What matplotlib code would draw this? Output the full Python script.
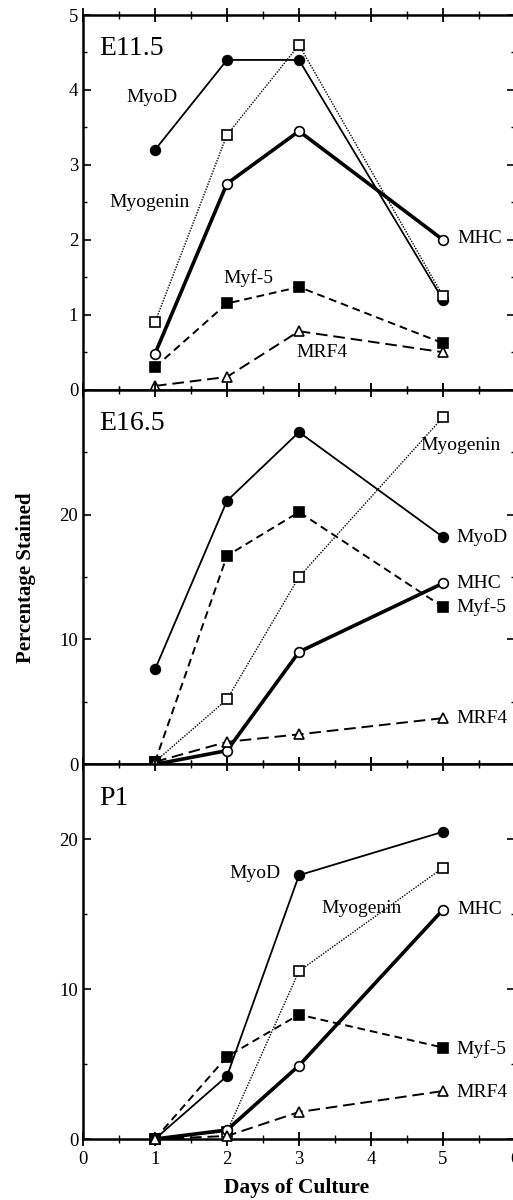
import matplotlib
matplotlib.use('Agg')
import matplotlib.pyplot as plt
from matplotlib.ticker import MultipleLocator

plt.rcParams['font.family'] = ['Liberation Serif', 'DejaVu Serif']

days = [1, 2, 3, 5]

# E11.5
e11_myod = [3.2, 4.4, 4.4, 1.2]
e11_myogenin = [0.9, 3.4, 4.6, 1.25]
e11_mhc = [0.48, 2.75, 3.45, 2.0]
e11_myf5 = [0.3, 1.15, 1.37, 0.62]
e11_mrf4 = [0.05, 0.17, 0.78, 0.5]

# E16.5
e16_myod = [7.6, 21.1, 26.6, 18.2]
e16_myogenin = [0.2, 5.2, 15.0, 27.8]
e16_mhc = [0.0, 1.1, 9.0, 14.5]
e16_myf5 = [0.2, 16.7, 20.2, 12.6]
e16_mrf4 = [0.2, 1.8, 2.4, 3.7]

# P1
p1_myod = [0.0, 4.2, 17.6, 20.5]
p1_myogenin = [0.0, 0.5, 11.2, 18.1]
p1_mhc = [0.0, 0.6, 4.9, 15.3]
p1_myf5 = [0.0, 5.5, 8.3, 6.1]
p1_mrf4 = [0.0, 0.2, 1.8, 3.2]

panels = [
    ('E11.5', 5, 0.5, [e11_myod, e11_myogenin, e11_mhc, e11_myf5, e11_mrf4]),
    ('E16.5', 30, 5, [e16_myod, e16_myogenin, e16_mhc, e16_myf5, e16_mrf4]),
    ('P1', 25, 5, [p1_myod, p1_myogenin, p1_mhc, p1_myf5, p1_mrf4]),
]

# marker, fill, linestyle, linewidth
styles = [
    ('o', 'black', '-', 1.3),
    ('s', 'white', (0, (1, 1)), 1.0),
    ('o', 'white', '-', 2.6),
    ('s', 'black', (0, (4, 2.5)), 1.4),
    ('^', 'white', (0, (6, 3)), 1.4),
]

# labels: (text, x, y, ha)
labels = [
    [('MyoD', 0.96, 3.9, 'center'), ('Myogenin', 0.93, 2.5, 'center'),
     ('Myf-5', 2.3, 1.49, 'center'), ('MHC', 5.2, 2.02, 'left'),
     ('MRF4', 3.32, 0.5, 'center')],
    [('Myogenin', 4.68, 25.5, 'left'), ('MyoD', 5.18, 18.2, 'left'),
     ('MHC', 5.18, 14.5, 'left'), ('Myf-5', 5.18, 12.6, 'left'),
     ('MRF4', 5.18, 3.7, 'left')],
    [('MyoD', 2.75, 17.7, 'right'), ('Myogenin', 3.87, 15.4, 'center'),
     ('MHC', 5.2, 15.3, 'left'), ('Myf-5', 5.18, 6.0, 'left'),
     ('MRF4', 5.18, 3.1, 'left')],
]

fig = plt.figure(figsize=(5.13, 12.0), dpi=100)
left, right, bottom, top = 83 / 513, 515 / 513, 1 - 1139 / 1200, 1 - 15 / 1200
h = (top - bottom) / 3

axes = []
for i, (name, ymax, minor, series) in enumerate(panels):
    ax = fig.add_axes([left, top - (i + 1) * h, right - left, h])
    axes.append(ax)
    for vals, (m, fc, ls, lw) in zip(series, styles):
        ax.plot(days, vals, color='black', linestyle=ls, linewidth=lw,
                marker=m, markerfacecolor=fc, markeredgecolor='black',
                markeredgewidth=1.2, markersize=7, clip_on=False, zorder=3)
    ax.set_xlim(0, 6)
    ax.set_ylim(0, ymax)
    ax.xaxis.set_major_locator(MultipleLocator(1))
    ax.xaxis.set_minor_locator(MultipleLocator(0.5))
    if ymax == 5:
        ax.set_yticks([0, 1, 2, 3, 4, 5])
    else:
        ax.set_yticks([0, 10, 20])
    ax.yaxis.set_minor_locator(MultipleLocator(minor))
    ax.tick_params(axis='x', which='both', top=True, bottom=True, direction='inout')
    ax.tick_params(axis='x', which='major', length=10, width=1.3)
    ax.tick_params(axis='x', which='minor', length=6, width=1.0)
    ax.tick_params(axis='y', which='both', left=True, right=True, direction='in')
    ax.tick_params(axis='y', which='major', length=6, width=1.2, labelsize=13.5)
    ax.tick_params(axis='y', which='minor', length=3, width=1.0)
    ax.tick_params(axis='x', labelsize=13.5)
    for sp in ax.spines.values():
        sp.set_linewidth(1.8)
    if i < 2:
        ax.tick_params(axis='x', labelbottom=False)
    ax.text(0.22, ymax * 0.91, name, fontsize=20, ha='left', va='center')
    for txt, x, y, ha in labels[i]:
        ax.text(x, y, txt, fontsize=14, ha=ha, va='center')

fig.text(297 / 513, 1 - 1188 / 1200, 'Days of Culture', fontsize=15.5,
         fontweight='bold', ha='center', va='center')
fig.text(0.05, 1 - 578 / 1200, 'Percentage Stained', rotation=90, fontsize=15,
         fontweight='bold', ha='center', va='center')

fig.savefig('out.png', dpi=100)
